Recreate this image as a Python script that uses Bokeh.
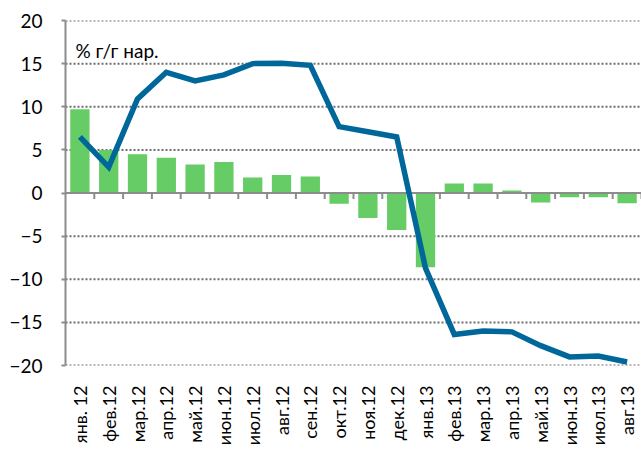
import numpy as np
from bokeh.plotting import figure
from bokeh.models import Range1d, FixedTicker, Span, Label, ColumnDataSource
from bokeh.embed import file_html
from bokeh.resources import INLINE

months = ["янв. 12", "фев.12", "мар.12", "апр.12", "май.12", "июн.12", "июл.12",
          "авг.12", "сен.12", "окт.12", "ноя.12", "дек.12", "янв.13", "фев.13",
          "мар.13", "апр.13", "май.13", "июн.13", "июл.13", "авг.13"]
bar_values = [9.7, 5.0, 4.5, 4.1, 3.3, 3.6, 1.8, 2.1, 1.9, -1.25, -2.9, -4.3,
              -8.6, 1.1, 1.1, 0.3, -1.1, -0.5, -0.5, -1.2]
line_values = [6.5, 3.0, 10.9, 14.0, 13.0, 13.7, 15.0, 15.05, 14.8, 7.7, 7.1, 6.5,
               -8.7, -16.4, -16.0, -16.1, -17.7, -19.0, -18.9, -19.6]
y_ticks = [-20, -15, -10, -5, 0, 5, 10, 15, 20]
unit_label = "% г/г нар."

FONT = "Lato"
idx = list(range(len(months)))
x_lo, x_hi = -0.5, len(months) - 0.5

p = figure(width=641, height=453, output_backend="svg", toolbar_location=None,
           x_range=Range1d(x_lo, x_hi), y_range=Range1d(-20, 20),
           min_border_left=65, min_border_right=0, min_border_top=20,
           min_border_bottom=88)
p.outline_line_color = None
p.background_fill_color = "white"
p.border_fill_color = "white"

# dotted horizontal grid lines, drawn as glyphs beneath the bars
p.xgrid.grid_line_color = None
p.ygrid.grid_line_color = None
grid_levels = [t for t in y_ticks if t != 0]
p.multi_line(xs=[[x_lo, x_hi] for _ in grid_levels],
             ys=[[t, t] for t in grid_levels],
             line_color="#6e6e6e", line_width=2, line_dash="2 2")

# y axis
p.yaxis.ticker = FixedTicker(ticks=y_ticks)
p.yaxis.axis_line_color = "#8c8c8c"
p.yaxis.axis_line_width = 2
p.yaxis.major_tick_line_color = "#8c8c8c"
p.yaxis.major_tick_line_width = 2
p.yaxis.major_tick_out = 4
p.yaxis.major_tick_in = 0
p.yaxis.minor_tick_line_color = None
p.yaxis.major_label_text_font = FONT
p.yaxis.major_label_text_font_size = "19px"
p.yaxis.major_label_text_color = "black"
p.yaxis.major_label_standoff = 19

# x axis (labels only, at bottom)
p.xaxis.ticker = FixedTicker(ticks=idx)
p.xaxis.major_label_overrides = {i: m for i, m in zip(idx, months)}
p.xaxis.major_label_orientation = np.pi / 2
p.xaxis.axis_line_color = None
p.xaxis.major_tick_line_color = None
p.xaxis.minor_tick_line_color = None
p.xaxis.major_label_text_font = FONT
p.xaxis.major_label_text_font_size = "18px"
p.xaxis.major_label_text_color = "black"
p.xaxis.major_label_standoff = 14

# bars
src = ColumnDataSource(dict(x=idx, bar=bar_values, line=line_values))
p.vbar(x="x", top="bar", bottom=0, width=0.67, source=src,
       fill_color="#66CC66", line_color=None)

# zero axis with tick marks at category boundaries
p.line(x=[x_lo, x_hi], y=[0, 0], line_color="#8c8c8c", line_width=2)
bounds = [i + 0.5 for i in idx]
p.segment(x0=bounds, y0=[0] * len(bounds), x1=bounds, y1=[-0.7] * len(bounds),
          line_color="#8c8c8c", line_width=2)

# line
p.line(x="x", y="line", source=src, line_color="#00679A", line_width=5.5,
       line_join="miter")

p.add_layout(Label(x=10, y=304, x_units="screen", y_units="screen", text=unit_label,
                   text_font=FONT, text_font_size="19px", text_color="black"))

open("out.html", "w").write(file_html(p, INLINE))
